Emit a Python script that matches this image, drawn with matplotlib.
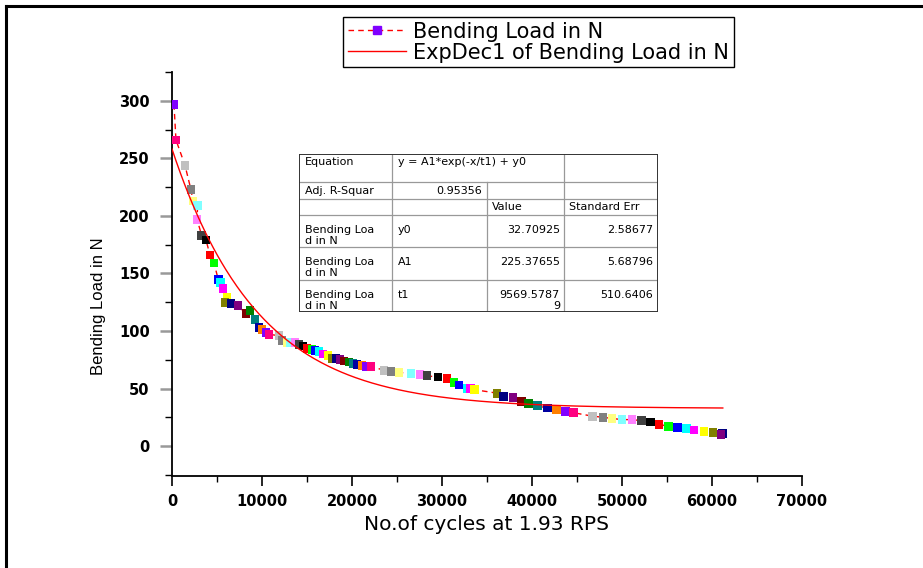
import numpy as np
import matplotlib.pyplot as plt
from matplotlib.lines import Line2D
from matplotlib.ticker import MultipleLocator

# measured points (cycles, bending load in N) and their Origin symbol colours
cycles = [220, 440, 1440, 2100, 2330, 2850, 2780, 3300, 3780, 4220,
          4670, 5130, 5430, 5670, 6100, 5900, 6560, 7330, 8220, 8670,
          9220, 9670, 10000, 10440, 10780, 11890, 12220, 12780, 13100, 13670,
          14110, 14560, 15000, 15560, 15890, 16330, 16780, 17330, 17780, 18220,
          18670, 19110, 19670, 20110, 20560, 21110, 21560, 22110, 23560, 24330,
          25220, 26560, 27560, 28330, 29560, 30560, 31330, 31900, 32800, 33200,
          33600, 36100, 36800, 37900, 38800, 39600, 40600, 41700, 42700, 43700,
          44600, 46700, 47900, 48900, 50000, 51100, 52200, 53200, 54100, 55200,
          56200, 57200, 58000, 59100, 60100, 61200, 61000]
load = [297, 266, 244, 223, 213, 209, 197, 183, 179, 166,
        159, 145, 142, 137, 129, 125, 124, 122, 115, 118,
        110, 103, 101, 99, 97, 96, 92, 90, 90, 90,
        88, 87, 85, 84, 83, 82, 80, 79, 76, 76,
        75, 74, 73, 72, 71, 70, 69, 69, 66, 65,
        64, 63, 62, 61, 60, 59, 55, 53, 50, 50,
        49, 46, 43, 42, 39, 37, 35, 33, 32, 30,
        29, 26, 25, 24, 23, 23, 22, 21, 19, 17,
        16, 15, 14, 13, 12, 11, 10]
symbol = ['violet', 'pink', 'ltgray', 'gray', 'ltyellow', 'ltcyan', 'ltmagenta', 'dkgray', 'black', 'red',
          'green', 'blue', 'cyan', 'magenta', 'yellow', 'dkyellow', 'navy', 'purple', 'wine', 'olive',
          'dkcyan', 'royal', 'orange', 'violet', 'pink', 'ltgray', 'gray', 'ltyellow', 'ltcyan', 'ltmagenta',
          'dkgray', 'black', 'red', 'green', 'blue', 'cyan', 'magenta', 'yellow', 'dkyellow', 'navy',
          'purple', 'wine', 'olive', 'dkcyan', 'royal', 'orange', 'violet', 'pink', 'ltgray', 'gray',
          'ltyellow', 'ltcyan', 'ltmagenta', 'dkgray', 'black', 'red', 'green', 'blue', 'cyan', 'magenta',
          'yellow', 'dkyellow', 'navy', 'purple', 'wine', 'olive', 'dkcyan', 'royal', 'orange', 'violet',
          'pink', 'ltgray', 'gray', 'ltyellow', 'ltcyan', 'ltmagenta', 'dkgray', 'black', 'red', 'green',
          'blue', 'cyan', 'magenta', 'yellow', 'dkyellow', 'navy', 'purple']

palette = {'black': '#000000', 'red': '#FF0000', 'green': '#00FF00', 'blue': '#0000FF',
           'cyan': '#00FFFF', 'magenta': '#FF00FF', 'yellow': '#FFFF00', 'dkyellow': '#808000',
           'navy': '#000080', 'purple': '#800080', 'wine': '#800000', 'olive': '#008000',
           'dkcyan': '#008080', 'royal': '#0000A0', 'orange': '#FF8000', 'violet': '#8000FF',
           'pink': '#FF0080', 'ltgray': '#C0C0C0', 'gray': '#808080', 'ltyellow': '#FFFF80',
           'ltcyan': '#80FFFF', 'ltmagenta': '#FF80FF', 'dkgray': '#404040'}

# ExpDec1 fit
y0, y0_err = 32.70925, 2.58677
A1, A1_err = 225.37655, 5.68796
t1, t1_err = 9569.57879, 510.6406
adj_r2 = 0.95356
fit_x_end = 61200

W, H = 923, 568
fig = plt.figure(figsize=(W / 100, H / 100), dpi=100)
ax = fig.add_axes([172 / W, 1 - 476 / H, 630 / W, 404 / H])

ax.plot(cycles, load, color='red', lw=1, ls=(0, (4, 3)), zorder=2)
ax.scatter(cycles, load, marker='s', s=40, c=[palette[c] for c in symbol],
           linewidths=0, zorder=3)
xf = np.linspace(0, fit_x_end, 400)
ax.plot(xf, A1 * np.exp(-xf / t1) + y0, color='red', lw=1, zorder=4)

ax.set_xlim(0, 70000)
ax.set_ylim(-26, 325)
ax.spines['top'].set_visible(False)
ax.spines['right'].set_visible(False)
for s in ['left', 'bottom']:
    ax.spines[s].set_linewidth(1.3)
ax.xaxis.set_major_locator(MultipleLocator(10000))
ax.xaxis.set_minor_locator(MultipleLocator(5000))
ax.yaxis.set_major_locator(MultipleLocator(50))
ax.yaxis.set_minor_locator(MultipleLocator(25))
ax.set_yticks(range(0, 301, 50))
ax.tick_params(axis='x', which='major', length=7, width=1.2, labelsize=10.5, pad=6)
ax.tick_params(axis='x', which='minor', length=4, width=1)
ax.tick_params(axis='y', which='major', length=9, width=1.8, color='#999999', labelsize=10.5, pad=7)
ax.tick_params(axis='y', which='minor', length=5, width=1)
plt.setp(ax.get_xticklabels() + ax.get_yticklabels(), fontweight='bold')

fig.text(487 / W, 1 - 524 / H, 'No.of cycles at 1.93 RPS', fontsize=14.5, ha='center', va='center')
fig.text(99 / W, 1 - 306 / H, 'Bending Load in N', fontsize=12, rotation=90,
         ha='center', va='center', family=['Liberation Sans'])

# legend
handles = [Line2D([], [], color='red', lw=1, ls=(0, (4, 3)), marker='s', ms=6,
                  mfc=palette['violet'], mec=palette['violet']),
           Line2D([], [], color='red', lw=1)]
fig.legend(handles, ['Bending Load in N', 'ExpDec1 of Bending Load in N'],
           loc='upper left', bbox_to_anchor=(343 / W, 1 - 17 / H), borderaxespad=0,
           fontsize=15, frameon=True, fancybox=False, edgecolor='black', framealpha=1,
           handlelength=2.8, handletextpad=0.35, labelspacing=0.05, borderpad=0.22,
           numpoints=1)

# fit results table
tab = fig.add_axes([299 / W, 1 - 312 / H, 359 / W, 158 / H])
tab.set_xlim(0, 359)
tab.set_ylim(158, 0)
tab.axis('off')
rows = [0, 28, 45, 61, 93, 126, 158]
inner = dict(color='#999999', lw=0.9)
for r in rows[1:-1]:
    tab.plot([0, 359], [r, r], **inner)
tab.plot([93, 93], [0, 158], **inner)
tab.plot([265, 265], [0, 158], **inner)
tab.plot([188, 188], [28, 158], **inner)
tab.plot([0, 359, 359, 0, 0], [0, 0, 158, 158, 0], color='#333333', lw=1.4)

fs = 8
tab.text(6, 8, 'Equation', fontsize=fs, va='center')
tab.text(99, 8, 'y = A1*exp(-x/t1) + y0', fontsize=fs, va='center')
tab.text(6, 37, 'Adj. R-Squar', fontsize=fs, va='center')
tab.text(183, 37, f'{adj_r2:.5f}', fontsize=fs, va='center', ha='right')
tab.text(193, 53, 'Value', fontsize=fs, va='center')
tab.text(270, 53, 'Standard Err', fontsize=fs, va='center')
params = [('y0', f'{y0:.5f}', '', f'{y0_err:.5f}'),
          ('A1', f'{A1:.5f}', '', f'{A1_err:.5f}'),
          ('t1', f'{t1:.5f}'[:-1], f'{t1:.5f}'[-1], f'{t1_err:.4f}')]
for (name, val, val2, err), top in zip(params, rows[3:6]):
    tab.text(6, top + 15, 'Bending Loa', fontsize=fs, va='center')
    tab.text(6, top + 26, 'd in N', fontsize=fs, va='center')
    tab.text(99, top + 15, name, fontsize=fs, va='center')
    tab.text(261, top + 15, val, fontsize=fs, va='center', ha='right')
    if val2:
        tab.text(261, top + 26, val2, fontsize=fs, va='center', ha='right')
    tab.text(354, top + 15, err, fontsize=fs, va='center', ha='right')

# outer frame of the picture (left and top edges)
fig.add_artist(Line2D([6 / W, 6 / W], [0, 1 - 6 / H], transform=fig.transFigure, color='black', lw=2.2))
fig.add_artist(Line2D([6 / W, 1], [1 - 6 / H, 1 - 6 / H], transform=fig.transFigure, color='black', lw=2.2))

fig.savefig('out.png', dpi=100)
